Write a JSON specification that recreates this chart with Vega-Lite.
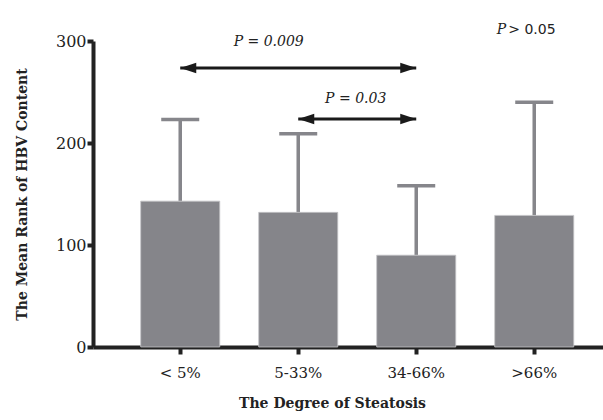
{
  "$schema": "https://vega.github.io/schema/vega-lite/v6.json",
  "width": 510,
  "height": 306,
  "autosize": {"type": "none"},
  "padding": {"left": 93, "top": 41, "right": 0, "bottom": 73},
  "background": "white",
  "config": {"view": {"stroke": null}},
  "datasets": {
    "bars": [
      {"cat": "< 5%", "mean": 143, "upper": 223},
      {"cat": "5-33%", "mean": 132, "upper": 209},
      {"cat": "34-66%", "mean": 90, "upper": 158},
      {"cat": ">66%", "mean": 129, "upper": 240}
    ],
    "arrows": [
      {"from": "< 5%", "to": "34-66%", "y": 273.5},
      {"from": "5-33%", "to": "34-66%", "y": 223.5}
    ],
    "labels": [
      {"cat": "5-33%", "y": 299, "label": "P = 0.009", "dx": 10},
      {"cat": "34-66%", "y": 243, "label": "P = 0.03", "dx": -21}
    ]
  },
  "encoding": {
    "x": {
      "field": "cat",
      "type": "nominal",
      "sort": ["< 5%", "5-33%", "34-66%", ">66%"],
      "scale": {"domain": ["< 5%", "5-33%", "34-66%", ">66%"], "paddingInner": 0.33, "paddingOuter": 0.326, "align": 0.62},
      "axis": {
        "title": "The Degree of Steatosis",
        "titleFont": "DejaVu Serif",
        "titleFontSize": 14,
        "titleFontWeight": "bold",
        "titleColor": "#222",
        "titlePadding": 16,
        "titleX": 239,
        "labelAngle": 0,
        "labelFont": "DejaVu Serif",
        "labelFontSize": 15,
        "labelColor": "#222",
        "labelPadding": 11,
        "domainColor": "#222",
        "domainWidth": 4,
        "tickColor": "#222",
        "tickWidth": 4,
        "tickSize": 7
      }
    }
  },
  "layer": [
    {
      "data": {"name": "bars"},
      "mark": {"type": "rule", "color": "#86868b", "strokeWidth": 3.5},
      "encoding": {
        "y": {"field": "mean", "type": "quantitative"},
        "y2": {"field": "upper"}
      }
    },
    {
      "data": {"name": "bars"},
      "mark": {"type": "tick", "color": "#86868b", "thickness": 3.5, "size": 38, "orient": "horizontal", "opacity": 1},
      "encoding": {
        "y": {"field": "upper", "type": "quantitative"}
      }
    },
    {
      "data": {"name": "bars"},
      "mark": {"type": "bar", "fill": "#85858a", "stroke": "#c4c4c7", "strokeWidth": 0.8},
      "encoding": {
        "y": {
          "field": "mean",
          "type": "quantitative",
          "scale": {"domain": [0, 300], "nice": false},
          "axis": {
            "title": "The Mean Rank of HBV Content",
            "titleFont": "DejaVu Serif",
            "titleFontSize": 14,
            "titleFontWeight": "bold",
            "titleColor": "#222",
            "titlePadding": 26,
            "values": [0, 100, 200, 300],
            "grid": false,
            "labelFont": "DejaVu Serif",
            "labelFontSize": 16,
            "labelColor": "#222",
            "labelPadding": 1,
            "domainColor": "#222",
            "domainWidth": 4,
            "tickColor": "#222",
            "tickWidth": 4,
            "tickSize": 6
          }
        }
      }
    },
    {
      "data": {"name": "arrows"},
      "mark": {"type": "rule", "color": "#1a1a1a", "strokeWidth": 3},
      "encoding": {
        "x": {"field": "from", "type": "nominal", "sort": ["< 5%", "5-33%", "34-66%", ">66%"]},
        "x2": {"field": "to"},
        "y": {"field": "y", "type": "quantitative"}
      }
    },
    {
      "data": {"name": "arrows"},
      "mark": {"type": "point", "shape": "M0,0L2,-0.65L2,0.65Z", "size": 256, "filled": true, "color": "#1a1a1a", "opacity": 1},
      "encoding": {
        "x": {"field": "from", "type": "nominal", "sort": ["< 5%", "5-33%", "34-66%", ">66%"]},
        "y": {"field": "y", "type": "quantitative"}
      }
    },
    {
      "data": {"name": "arrows"},
      "mark": {"type": "point", "shape": "M0,0L-2,-0.65L-2,0.65Z", "size": 256, "filled": true, "color": "#1a1a1a", "opacity": 1},
      "encoding": {
        "x": {"field": "to", "type": "nominal", "sort": ["< 5%", "5-33%", "34-66%", ">66%"]},
        "y": {"field": "y", "type": "quantitative"}
      }
    },
    {
      "data": {"name": "labels"},
      "mark": {"type": "text", "font": "DejaVu Serif", "fontSize": 14, "fontStyle": "italic", "color": "#222", "align": "center", "baseline": "middle"},
      "encoding": {
        "x": {"field": "cat", "type": "nominal", "sort": ["< 5%", "5-33%", "34-66%", ">66%"]},
        "y": {"field": "y", "type": "quantitative"},
        "xOffset": {"field": "dx", "type": "quantitative", "scale": null},
        "text": {"field": "label"}
      }
    },
    {
      "data": {"values": [{"cat": ">66%", "y": 311, "label": "P"}]},
      "mark": {"type": "text", "font": "DejaVu Serif", "fontSize": 14, "fontStyle": "italic", "color": "#222", "align": "right", "baseline": "middle", "dx": -28, "clip": false},
      "encoding": {
        "x": {"field": "cat", "type": "nominal", "sort": ["< 5%", "5-33%", "34-66%", ">66%"]},
        "y": {"field": "y", "type": "quantitative"},
        "text": {"field": "label"}
      }
    },
    {
      "data": {"values": [{"cat": ">66%", "y": 311, "label": "> 0.05"}]},
      "mark": {"type": "text", "font": "DejaVu Sans", "fontSize": 14, "color": "#222", "align": "left", "baseline": "middle", "dx": -26, "clip": false},
      "encoding": {
        "x": {"field": "cat", "type": "nominal", "sort": ["< 5%", "5-33%", "34-66%", ">66%"]},
        "y": {"field": "y", "type": "quantitative"},
        "text": {"field": "label"}
      }
    }
  ]
}
